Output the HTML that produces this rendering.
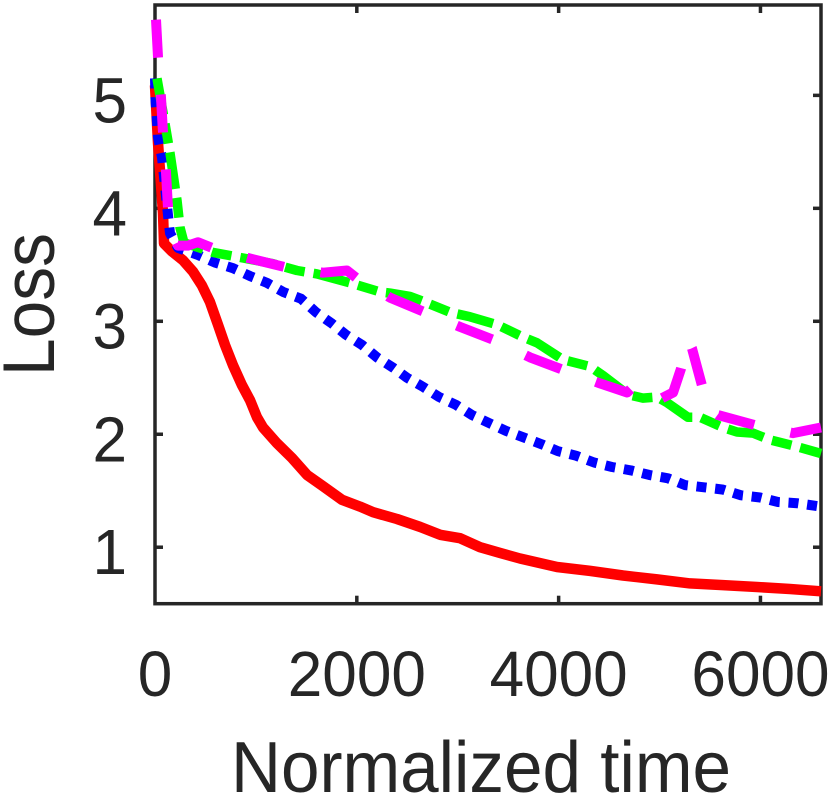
<!DOCTYPE html>
<html>
<head>
<meta charset="utf-8">
<title>Loss vs normalized time</title>
<style>
html,body{margin:0;padding:0;background:#fff;}
svg{display:block;}
text{font-family:"Liberation Sans",Arial,sans-serif;fill:#262626;}
</style>
</head>
<body>
<svg id="chart" width="830" height="799" viewBox="0 0 830 799" xmlns="http://www.w3.org/2000/svg">
<g id="axes"></g>
<g id="series"></g>
<text x="231" y="792" font-size="72" textLength="500" lengthAdjust="spacingAndGlyphs">Normalized time</text>
<text transform="translate(54,376) rotate(-90)" x="0" y="0" font-size="73" textLength="143" lengthAdjust="spacingAndGlyphs">Loss</text>
</svg>
<script>
var xTicks = [0, 2000, 4000, 6000];
var yTicks = [1, 2, 3, 4, 5];

var redTime = [0,30,79,89,166,277,377,463,545,624,694,773,859,942,1011,1070,1209,1358,1506,1665,1853,2032,2161,2398,2626,2825,3023,3221,3419,3617,3984,4311,4638,4975,5302,5629,5966,6293,6600];
var redLoss = [5.09,4.58,3.96,3.69,3.62,3.54,3.44,3.32,3.17,2.97,2.79,2.61,2.44,2.30,2.15,2.06,1.92,1.79,1.64,1.54,1.42,1.36,1.31,1.25,1.18,1.11,1.08,1.00,0.95,0.90,0.825,0.79,0.75,0.715,0.68,0.665,0.648,0.63,0.61];

var blueTime = [0,5,30,69,129,149,228,416,595,773,942,1110,1269,1447,1596,1754,1893,2052,2200,2359,2498,2656,2815,2983,3142,3310,3479,3657,3835,3994,4172,4351,4529,4717,4896,5084,5253,5441,5629,5808,5996,6174,6363,6600];
var blueLoss = [5.15,4.96,4.63,4.45,3.94,3.78,3.65,3.59,3.52,3.47,3.40,3.34,3.26,3.20,3.08,2.98,2.88,2.79,2.68,2.59,2.50,2.42,2.33,2.26,2.17,2.10,2.03,1.97,1.91,1.85,1.81,1.75,1.71,1.68,1.64,1.61,1.55,1.53,1.51,1.46,1.44,1.40,1.39,1.36];

var greenTime = [20,99,149,218,248,287,575,872,1169,1407,1605,1933,2230,2329,2527,2676,2924,3122,3390,3647,3786,4044,4311,4440,4688,4836,4975,5074,5282,5401,5629,5768,5926,6095,6363,6600];
var greenLoss = [5.15,4.75,4.49,4.07,3.83,3.695,3.61,3.56,3.51,3.45,3.42,3.34,3.26,3.25,3.22,3.17,3.08,3.04,2.97,2.86,2.81,2.66,2.60,2.52,2.35,2.32,2.33,2.28,2.15,2.15,2.06,2.02,2.01,1.95,1.89,1.83];

var magentaTime = [10,30,59,79,109,129,168,228,327,426,565,922,1288,1665,1903,2002,2329,2676,3023,3370,3717,4044,4410,4678,4737,4886,5025,5134,5213,5283,5322,5421,5441,5580,5947,6323,6600];
var magentaLoss = [5.67,5.34,4.98,4.67,4.32,4.00,3.78,3.67,3.67,3.70,3.65,3.56,3.48,3.43,3.45,3.38,3.21,3.08,2.95,2.83,2.68,2.57,2.45,2.37,2.42,2.31,2.32,2.37,2.58,2.83,2.76,2.43,2.26,2.17,2.08,2.01,2.06];

var NS = 'http://www.w3.org/2000/svg';
var plotLeft = 155, plotRight = 821, plotTop = 5, plotBottom = 603.7;
var xMax = 6600, yMin = 0.5, yMax = 5.8;
function xScale(v){ return plotLeft + (v / xMax) * (plotRight - plotLeft); }
function yScale(v){ return plotBottom - ((v - yMin) / (yMax - yMin)) * (plotBottom - plotTop); }

var axes = document.getElementById('axes');
var seriesGroup = document.getElementById('series');

function line(x1, y1, x2, y2){
  var el = document.createElementNS(NS, 'line');
  el.setAttribute('x1', x1);
  el.setAttribute('y1', y1);
  el.setAttribute('x2', x2);
  el.setAttribute('y2', y2);
  el.setAttribute('stroke', '#262626');
  el.setAttribute('stroke-width', '3.5');
  axes.appendChild(el);
  return el;
}

var frame = document.createElementNS(NS, 'rect');
frame.setAttribute('x', plotLeft);
frame.setAttribute('y', plotTop);
frame.setAttribute('width', plotRight - plotLeft);
frame.setAttribute('height', plotBottom - plotTop);
frame.setAttribute('fill', 'none');
frame.setAttribute('stroke', '#262626');
frame.setAttribute('stroke-width', '3.5');


axes.appendChild(frame);

xTicks.forEach(function(t){
  var px = xScale(t);
  if (t !== 0) {
    var a = line(px, plotBottom, px, plotBottom - 8);
    
    
    var b = line(px, plotTop, px, plotTop + 8);
    
    
  }
  var label = document.createElementNS(NS, 'text');
  label.setAttribute('transform', 'translate(' + px + ',696) scale(0.97,1)');
  label.setAttribute('font-size', '64');
  label.setAttribute('text-anchor', 'middle');
  
  
  label.textContent = t;
  axes.appendChild(label);
});

yTicks.forEach(function(t){
  var py = yScale(t);
  var a = line(plotLeft, py, plotLeft + 8, py);
  
  
  var b = line(plotRight, py, plotRight - 8, py);
  
  
  var label = document.createElementNS(NS, 'text');
  label.setAttribute('transform', 'translate(127,' + (py + 27) + ') scale(0.97,1)');
  label.setAttribute('font-size', '64');
  label.setAttribute('text-anchor', 'end');
  
  
  label.textContent = t;
  axes.appendChild(label);
});

function drawSeries(times, losses, color, width, dash){
  var d = '';
  for (var i = 0; i < times.length; i++) {
    d += (i ? 'L' : 'M') + xScale(times[i]).toFixed(1) + ' ' + yScale(losses[i]).toFixed(1);
  }
  var path = document.createElementNS(NS, 'path');
  path.setAttribute('d', d);
  path.setAttribute('fill', 'none');
  path.setAttribute('stroke', color);
  path.setAttribute('stroke-width', width);
  path.setAttribute('stroke-linejoin', 'round');
  if (dash) path.setAttribute('stroke-dasharray', dash);
  seriesGroup.appendChild(path);
  return path;
}

var redLine = drawSeries(redTime, redLoss, '#ff0000', 10.5, '');



var blueLine = drawSeries(blueTime, blueLoss, '#0000ff', 10, '10 8.75');



var greenLine = drawSeries(greenTime, greenLoss, '#00ff00', 9.5, '37 9 20 9');



var magentaLine = drawSeries(magentaTime, magentaLoss, '#ff00ff', 10, '38 37');


</script>
</body>
</html>
